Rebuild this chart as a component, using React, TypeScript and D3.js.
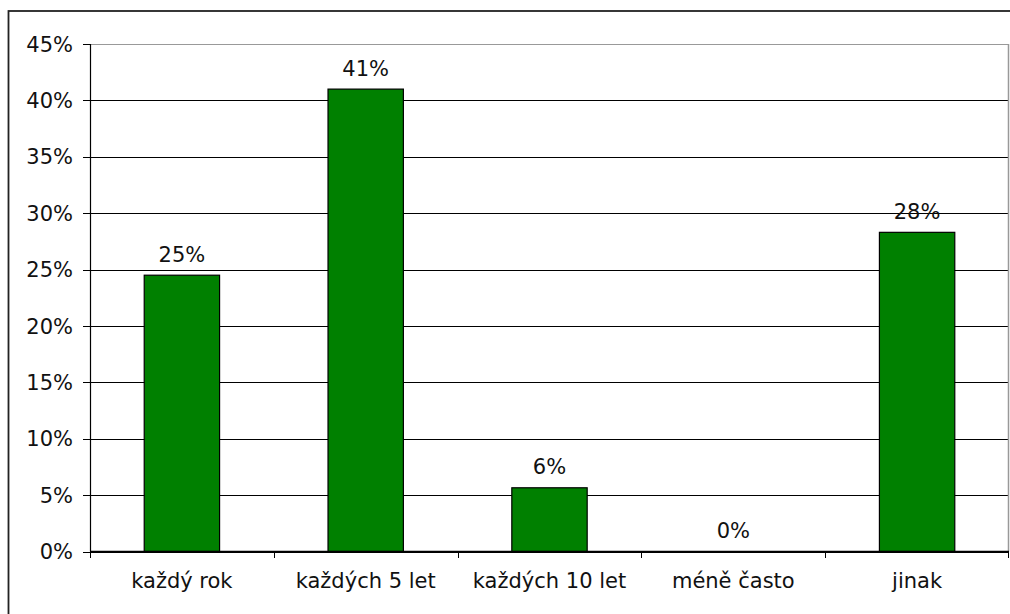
import React from "react";
import * as d3 from "d3";

const categories = ["každý rok", "každých 5 let", "každých 10 let", "méně často", "jinak"];
const values = [24.5, 41.0, 5.65, 0, 28.3];
const valueLabels = ["25%", "41%", "6%", "0%", "28%"];
const yTicks = [0, 5, 10, 15, 20, 25, 30, 35, 40, 45];

const W = 1010;
const H = 614;
const left = 90;
const right = 1009;
const top = 44;
const bottom = 551.5;
const font = "'DejaVu Sans', Verdana, sans-serif";
const fs = 21;

export default function App() {
  const x = d3.scaleBand<string>().domain(categories).range([left, right]).paddingInner(0).paddingOuter(0);
  const y = d3.scaleLinear().domain([0, 45]).range([bottom, top]);
  const band = x.bandwidth();
  const barW = band * 0.41;

  return (
    <svg width={W} height={H} style={{ position: "absolute", left: 0, top: 0 }} fontFamily={font}>
      <rect x={0} y={0} width={W} height={H} fill="#fff" />
      {/* outer chart frame */}
      <rect x={8.5} y={11} width={W + 20} height={H + 20} fill="none" stroke="#222" strokeWidth={1.8} />
      {/* gridlines */}
      {yTicks.map((t) => (
        <line key={t} x1={left} x2={right} y1={Math.round(y(t)) + 0.5} y2={Math.round(y(t)) + 0.5}
          stroke={t === 45 ? "#999" : "#000"} strokeWidth={1} />
      ))}
      {/* plot area right border */}
      <line x1={right - 0.5} x2={right - 0.5} y1={top} y2={bottom} stroke="#999" strokeWidth={1.5} />
      {/* bars */}
      {categories.map((c, i) => {
        const cx = (x(c) as number) + band / 2;
        const y0 = y(values[i]);
        return (
          <g key={c}>
            {values[i] > 0 && (
              <rect x={cx - barW / 2} y={y0} width={barW} height={bottom - y0}
                fill="#008000" stroke="#000" strokeWidth={1.2} />
            )}
            <text x={cx} y={y0 - 13.5} textAnchor="middle" fontSize={fs} fill="#111">{valueLabels[i]}</text>
            <text x={cx} y={588} textAnchor="middle" fontSize={fs} fill="#111">{c}</text>
          </g>
        );
      })}
      {/* y axis */}
      <line x1={left + 0.5} x2={left + 0.5} y1={top} y2={bottom} stroke="#000" strokeWidth={1.2} />
      {yTicks.map((t) => (
        <g key={"yt" + t}>
          <line x1={83} x2={left} y1={Math.round(y(t)) + 0.5} y2={Math.round(y(t)) + 0.5} stroke="#000" />
          <text x={73} y={y(t)} dy="0.36em" textAnchor="end" fontSize={fs} fill="#111">{t}%</text>
        </g>
      ))}
      {/* x axis */}
      <line x1={left} x2={right} y1={bottom} y2={bottom} stroke="#000" strokeWidth={1.5} />
      {categories.map((c) => (
        <line key={"xt" + c} x1={Math.round(x(c) as number) + 0.5} x2={Math.round(x(c) as number) + 0.5}
          y1={bottom} y2={bottom + 6.5} stroke="#000" />
      ))}
      <line x1={right - 0.5} x2={right - 0.5} y1={bottom} y2={bottom + 6.5} stroke="#000" />
    </svg>
  );
}
